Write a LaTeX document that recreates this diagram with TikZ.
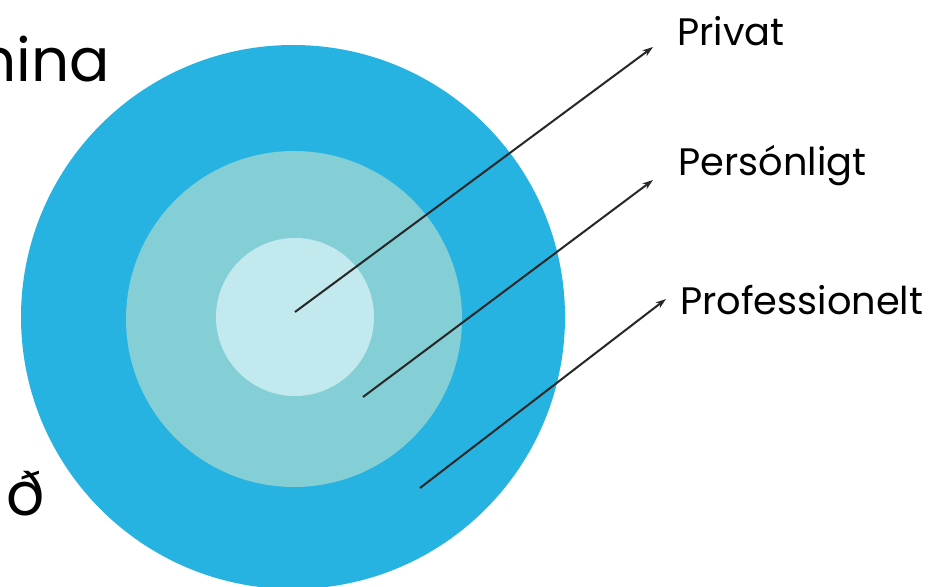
\documentclass[tikz,border=0pt]{standalone}
\usepackage{fontspec}
\setmainfont{Poppins}
\usetikzlibrary{arrows.meta}

\definecolor{ringout}{RGB}{38,179,225}
\definecolor{ringmid}{RGB}{132,206,214}
\definecolor{ringin}{RGB}{194,233,238}
\definecolor{pointer}{RGB}{40,40,40}

\begin{document}
\begin{tikzpicture}[x=0.02cm,y=-0.02cm]

    % `ring' is used for the three circles.
    % `tag' is used for the labels on the right.
    % `arrow' is used for the pointers.
    \tikzstyle{ring} = [circle,inner sep=0pt,draw=none]
    \tikzstyle{tag} = [anchor=base west,inner sep=0pt,font=\fontsize{21.8}{26}\selectfont]
    \tikzstyle{big} = [inner sep=0pt,font=\fontsize{34}{40}\selectfont]
    \tikzstyle{arrow} = [draw=pointer,line width=1.15pt,-{Stealth[length=6pt,width=4pt]}]
    %
    \useasboundingbox (0,0) rectangle (935,587);

    % Circles.
    \node[ring,fill=ringout,minimum size=544*0.02cm] (outer) at (293,317) {};
    \node[ring,fill=ringmid,minimum size=336*0.02cm] (middle) at (294,319) {};
    \node[ring,fill=ringin,minimum size=158*0.02cm] (inner) at (295,317) {};

    % Text on the left, cut by the edge.
    \node[big,anchor=base east] (hina) at (110,82) {hina};
    \node[big,anchor=base west] (eth) at (6,515) {ð};

    % Labels.
    \node[tag] (privat) at (677,46) {Privat};
    \node[tag] (person) at (678,176) {Persónligt};
    \node[tag] (profes) at (680,314) {Professionelt};

    % Arrows.
    \coordinate (from1) at (295,312);
    \coordinate (from2) at (363,397);
    \coordinate (from3) at (420,488);
    \coordinate (to1) at (653,47);
    \coordinate (to2) at (653,180);
    \coordinate (to3) at (666,299);
    \draw[arrow] (from1) -- (to1);
    \draw[arrow] (from2) -- (to2);
    \draw[arrow] (from3) -- (to3);
    %
\end{tikzpicture}
\end{document}
